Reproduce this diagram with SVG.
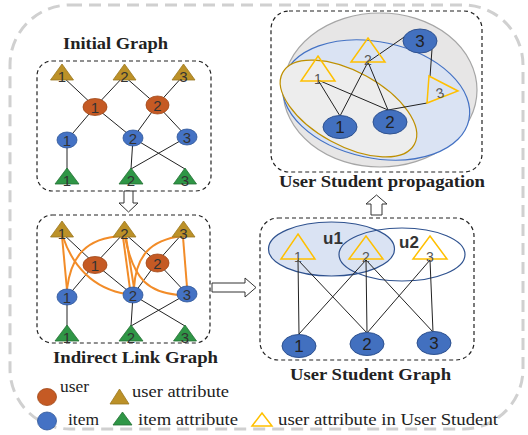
<svg xmlns="http://www.w3.org/2000/svg" width="528" height="435" viewBox="0 0 528 435">
<style>
.title{font-family:"Liberation Serif","Times New Roman",serif;font-weight:bold;font-size:16px;fill:#222}
.leg{font-family:"Liberation Serif","Times New Roman",serif;font-size:16px;fill:#222}
.num{font-family:"Liberation Sans",Arial,sans-serif;font-size:15px;fill:#333;text-anchor:middle}
.numb{font-family:"Liberation Sans",Arial,sans-serif;font-size:17px;fill:#222;text-anchor:middle}
.numy{font-family:"Liberation Sans",Arial,sans-serif;font-size:14px;fill:#555;text-anchor:middle}
.box{fill:none;stroke:#222;stroke-width:1.2;stroke-dasharray:4 3}
.user{fill:#C55A24;stroke:#A04818;stroke-width:0.8}
.item{fill:#4472C4;stroke:#2F5597;stroke-width:0.8}
.uattr{fill:#BC9128;stroke:#9A7720;stroke-width:0.8}
.iattr{fill:#2F9646;stroke:#237034;stroke-width:0.8}
.ytri{fill:none;stroke:#FFC000;stroke-width:1.5}
.ditem{fill:#4270BF;stroke:#2F528F;stroke-width:1}
.edge{stroke:#222;stroke-width:1;fill:none}
.oedge{stroke:#F28C28;stroke-width:2;fill:none}
.arrow{fill:#fff;stroke:#333;stroke-width:1}
</style>

<rect x="10" y="5" width="513" height="424" rx="60" fill="none" stroke="#d0d0d0" stroke-width="3" stroke-dasharray="12 7"/>

<!-- Initial Graph -->
<g id="initial-graph">
<text class="title" x="63" y="49" textLength="105" lengthAdjust="spacingAndGlyphs">Initial Graph</text>
<rect class="box" x="37" y="61" width="174" height="130" rx="15"/>
<g id="ig-edges">
<line class="edge" x1="62" y1="76" x2="95" y2="107"/>
<line class="edge" x1="124" y1="76" x2="95" y2="107"/>
<line class="edge" x1="124" y1="76" x2="157" y2="105"/>
<line class="edge" x1="183" y1="76" x2="157" y2="105"/>
<line class="edge" x1="95" y1="107" x2="67" y2="140"/>
<line class="edge" x1="95" y1="107" x2="133" y2="138"/>
<line class="edge" x1="157" y1="105" x2="133" y2="138"/>
<line class="edge" x1="157" y1="105" x2="187" y2="137"/>
<line class="edge" x1="67" y1="140" x2="67" y2="172"/>
<line class="edge" x1="133" y1="138" x2="131" y2="169"/>
<line class="edge" x1="133" y1="138" x2="185" y2="169"/>
<line class="edge" x1="187" y1="137" x2="131" y2="169"/>
</g>
<g id="ig-ua1"><polygon class="uattr" points="62,64 73.5,80 50.5,80"/><text class="num" x="62" y="82">1</text></g>
<g id="ig-ua2"><polygon class="uattr" points="124.5,64 136,80 113,80"/><text class="num" x="124.5" y="82">2</text></g>
<g id="ig-ua3"><polygon class="uattr" points="183.5,64 195,80 172,80"/><text class="num" x="183.5" y="82">3</text></g>
<g id="ig-u1"><ellipse class="user" cx="95" cy="107" rx="12" ry="8.5"/><text class="num" x="95" y="112.5">1</text></g>
<g id="ig-u2"><ellipse class="user" cx="157.5" cy="105" rx="11.5" ry="9"/><text class="num" x="157.5" y="110.5">2</text></g>
<g id="ig-i1"><ellipse class="item" cx="67" cy="140" rx="10" ry="8"/><text class="num" x="67" y="145.5">1</text></g>
<g id="ig-i2"><ellipse class="item" cx="133" cy="138" rx="10" ry="8"/><text class="num" x="133" y="143.5">2</text></g>
<g id="ig-i3"><ellipse class="item" cx="187" cy="137" rx="10" ry="8"/><text class="num" x="187" y="142.5">3</text></g>
<g id="ig-ia1"><polygon class="iattr" points="67,168 79,184 55,184"/><text class="num" x="67" y="186">1</text></g>
<g id="ig-ia2"><polygon class="iattr" points="131,168 143,184 119,184"/><text class="num" x="131" y="186">2</text></g>
<g id="ig-ia3"><polygon class="iattr" points="185,168 196.5,184 173.5,184"/><text class="num" x="185" y="186">3</text></g>
</g>

<!-- Indirect Link Graph -->
<g id="indirect-graph">
<rect class="box" x="37" y="215" width="173" height="128" rx="15"/>
<text class="title" x="53" y="363" textLength="165" lengthAdjust="spacingAndGlyphs">Indirect Link Graph</text>
<g id="il-edges">
<line class="edge" x1="62" y1="233" x2="95" y2="264"/>
<line class="edge" x1="124" y1="233" x2="95" y2="264"/>
<line class="edge" x1="124" y1="233" x2="157" y2="262"/>
<line class="edge" x1="183" y1="233" x2="157" y2="262"/>
<line class="edge" x1="95" y1="264" x2="67" y2="297"/>
<line class="edge" x1="95" y1="264" x2="133" y2="295"/>
<line class="edge" x1="157" y1="262" x2="133" y2="295"/>
<line class="edge" x1="157" y1="262" x2="187" y2="294"/>
<line class="edge" x1="67" y1="297" x2="67" y2="329"/>
<line class="edge" x1="133" y1="295" x2="131" y2="326"/>
<line class="edge" x1="133" y1="295" x2="185" y2="326"/>
<line class="edge" x1="187" y1="294" x2="131" y2="326"/>
</g>
<g id="il-orange-edges">
<line class="oedge" x1="62" y1="236" x2="67" y2="290"/>
<path class="oedge" d="M63,237 C72,264 92,289 127,294"/>
<path class="oedge" d="M122,236 C86,238 71,256 67,289"/>
<line class="oedge" x1="123" y1="237" x2="130" y2="289"/>
<line class="oedge" x1="126" y1="237" x2="134" y2="288"/>
<path class="oedge" d="M125,237 C134,282 150,292 178,295"/>
<path class="oedge" d="M182,236 C150,240 136,256 134,288"/>
<line class="oedge" x1="183" y1="237" x2="187" y2="287"/>
</g>
<g id="il-ua1"><polygon class="uattr" points="62,221 73.5,237 50.5,237"/><text class="num" x="62" y="239">1</text></g>
<g id="il-ua2"><polygon class="uattr" points="124.5,221 136,237 113,237"/><text class="num" x="124.5" y="239">2</text></g>
<g id="il-ua3"><polygon class="uattr" points="183.5,221 195,237 172,237"/><text class="num" x="183.5" y="239">3</text></g>
<g id="il-u1"><ellipse class="user" cx="95" cy="265" rx="12" ry="8.5"/><text class="num" x="95" y="270.5">1</text></g>
<g id="il-u2"><ellipse class="user" cx="157.5" cy="263" rx="11.5" ry="9"/><text class="num" x="157.5" y="268.5">2</text></g>
<g id="il-i1"><ellipse class="item" cx="67" cy="297" rx="10" ry="8"/><text class="num" x="67" y="302.5">1</text></g>
<g id="il-i2"><ellipse class="item" cx="133" cy="295" rx="10" ry="8"/><text class="num" x="133" y="300.5">2</text></g>
<g id="il-i3"><ellipse class="item" cx="187" cy="294" rx="10" ry="8"/><text class="num" x="187" y="299.5">3</text></g>
<g id="il-ia1"><polygon class="iattr" points="67,325 79,341 55,341"/><text class="num" x="67" y="343">1</text></g>
<g id="il-ia2"><polygon class="iattr" points="131,325 143,341 119,341"/><text class="num" x="131" y="343">2</text></g>
<g id="il-ia3"><polygon class="iattr" points="185,325 196.5,341 173.5,341"/><text class="num" x="185" y="343">3</text></g>
</g>

<!-- User Student Graph -->
<g id="user-student-graph">
<rect class="box" x="260" y="218" width="214" height="142" rx="18"/>
<text class="title" x="290" y="380" textLength="161" lengthAdjust="spacingAndGlyphs">User Student Graph</text>
<ellipse cx="331.5" cy="249" rx="63" ry="27" fill="#DAE3F3" stroke="#2F528F" stroke-width="1.2"/>
<ellipse cx="402" cy="254.5" rx="63" ry="26.5" fill="none" stroke="#2F528F" stroke-width="1.2"/>
<text x="333" y="244" font-family="'Liberation Sans',Arial,sans-serif" font-size="17" font-weight="bold" fill="#333" text-anchor="middle">u1</text>
<text x="409" y="248" font-family="'Liberation Sans',Arial,sans-serif" font-size="17" font-weight="bold" fill="#333" text-anchor="middle">u2</text>
<g id="usg-edges">
<line class="edge" x1="298" y1="260" x2="299" y2="334"/>
<line class="edge" x1="298" y1="260" x2="367" y2="333"/>
<line class="edge" x1="366" y1="260" x2="299" y2="334"/>
<line class="edge" x1="366" y1="260" x2="367" y2="333"/>
<line class="edge" x1="366" y1="260" x2="433" y2="332"/>
<line class="edge" x1="430" y1="260" x2="367" y2="333"/>
<line class="edge" x1="430" y1="260" x2="433" y2="332"/>
</g>
<g id="usg-a1"><polygon class="ytri" points="298,234 315,259 281,259"/><text class="numy" x="298" y="262">1</text></g>
<g id="usg-a2"><polygon class="ytri" points="366,236 383,259 349,259"/><text class="numy" x="366" y="262">2</text></g>
<g id="usg-a3"><polygon class="ytri" points="430,236 447,259 413,259"/><text class="numy" x="430" y="262">3</text></g>
<g id="usg-i1"><ellipse class="ditem" cx="299" cy="346" rx="17" ry="11.5"/><text class="numb" x="299" y="352">1</text></g>
<g id="usg-i2"><ellipse class="ditem" cx="367" cy="344" rx="17" ry="11.5"/><text class="numb" x="367" y="350">2</text></g>
<g id="usg-i3"><ellipse class="ditem" cx="434" cy="343" rx="17" ry="11.5"/><text class="numb" x="434" y="349">3</text></g>
</g>

<!-- User Student propagation -->
<g id="user-student-propagation">
<rect class="box" x="271" y="11" width="211" height="161" rx="18"/>
<text class="title" x="279" y="187" textLength="206" lengthAdjust="spacingAndGlyphs">User Student propagation</text>
<ellipse cx="380" cy="90" rx="97" ry="77" fill="#E7E6E6" stroke="#A6A6A6" stroke-width="1.2"/>
<ellipse cx="376" cy="100" rx="95" ry="58" transform="rotate(12 376 100)" fill="#DAE3F3" stroke="#4472C4" stroke-width="1.2"/>
<ellipse cx="348.5" cy="108.5" rx="75" ry="37" transform="rotate(28.6 348.5 108.5)" fill="#EDEDED" stroke="#BF9000" stroke-width="1.2"/>
<g id="usp-edges">
<line class="edge" x1="318" y1="80" x2="340" y2="116"/>
<line class="edge" x1="318" y1="80" x2="388" y2="110"/>
<line class="edge" x1="368" y1="62" x2="340" y2="116"/>
<line class="edge" x1="368" y1="62" x2="388" y2="110"/>
<line class="edge" x1="368" y1="62" x2="410" y2="33"/>
<line class="edge" x1="432" y1="49" x2="430" y2="77"/>
<line class="edge" x1="427" y1="103" x2="388" y2="110"/>
</g>
<g id="usp-a1"><polygon class="ytri" points="318,56 335,81 301,81"/><text class="numy" x="318" y="84">1</text></g>
<g id="usp-a2"><polygon class="ytri" points="368,38 385,62 351,62"/><text class="numy" x="368" y="65">2</text></g>
<g id="usp-a3"><polygon class="ytri" points="429,76 458,91 427,103"/><text class="numy" x="440" y="98" transform="rotate(-15 440 93)">3</text></g>
<g id="usp-i1"><ellipse class="ditem" cx="340" cy="127" rx="17" ry="11.5"/><text class="numb" x="340" y="133">1</text></g>
<g id="usp-i2"><ellipse class="ditem" cx="390" cy="122" rx="17" ry="12"/><text class="numb" x="390" y="128">2</text></g>
<g id="usp-i3"><ellipse class="ditem" cx="420" cy="41" rx="17" ry="12"/><text class="numb" x="420" y="47">3</text></g>
</g>

<!-- Arrows -->
<g id="connectors">
<polygon class="arrow" points="124,191 133,191 133,203 138,203 128.5,212 119,203 124,203"/>
<polygon class="arrow" points="212,283 245,283 245,278 256,287.5 245,297 245,292 212,292"/>
<polygon class="arrow" points="371,215 382,215 382,204 387,204 376.5,195 366,204 371,204"/>
</g>

<!-- Legend -->
<g id="legend">
<ellipse class="user" cx="47" cy="397" rx="9.5" ry="8.5"/>
<text class="leg" x="60" y="392" textLength="29" lengthAdjust="spacingAndGlyphs">user</text>
<polygon class="uattr" points="119.5,389 129,404 110,404"/>
<text class="leg" x="132" y="397" textLength="97" lengthAdjust="spacingAndGlyphs">user attribute</text>
<ellipse class="item" cx="47" cy="421" rx="9.5" ry="9"/>
<text class="leg" x="68" y="425" textLength="31" lengthAdjust="spacingAndGlyphs">item</text>
<polygon class="iattr" points="122.5,412 132,425 113,425"/>
<text class="leg" x="138" y="425" textLength="100" lengthAdjust="spacingAndGlyphs">item attribute</text>
<polygon class="ytri" points="262,413 272,426 252,426"/>
<text class="leg" x="278" y="425" textLength="220" lengthAdjust="spacingAndGlyphs">user attribute in User Student</text>
</g>
</svg>
